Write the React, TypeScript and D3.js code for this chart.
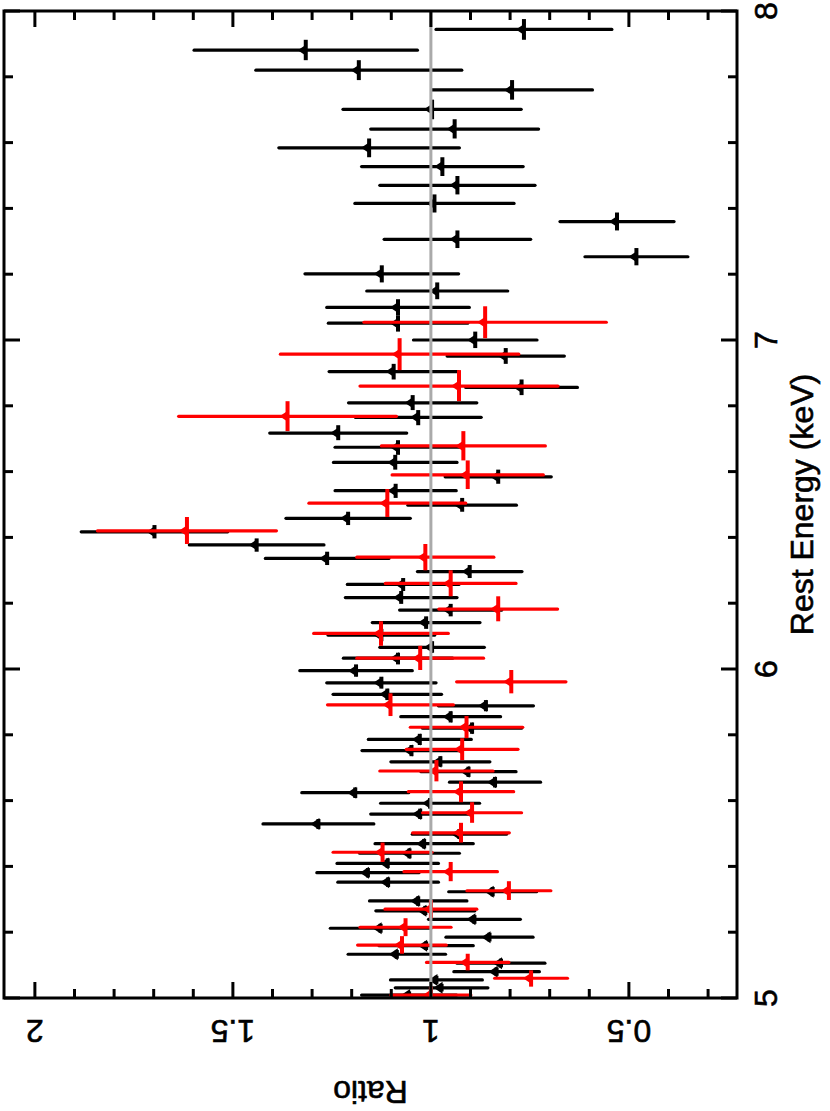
import React from 'react';
import * as d3 from 'd3';

// ---- Data ----
const blackEnergy = [7.944,7.881,7.820,7.760,7.701,7.641,7.584,7.527,7.470,7.415,7.360,7.306,7.253,7.201,7.149,7.099,7.051,7.000,6.951,6.904,6.856,6.809,6.765,6.717,6.674,6.628,6.584,6.542,6.498,6.458,6.417,6.377,6.336,6.296,6.257,6.217,6.179,6.141,6.103,6.066,6.033,5.995,5.958,5.923,5.888,5.855,5.820,5.786,5.752,5.718,5.688,5.656,5.624,5.592,5.559,5.529,5.498,5.469,5.440,5.409,5.381,5.352,5.323,5.295,5.265,5.239,5.212,5.185,5.159,5.133,5.106,5.080,5.055,5.031,5.009];
const blackRatio = [0.765,1.316,1.182,0.795,0.997,0.940,1.156,0.971,0.933,0.991,0.530,0.933,0.481,1.124,0.984,1.083,1.083,0.888,0.811,1.094,0.771,1.046,1.032,1.234,1.083,1.090,0.830,1.089,0.921,1.209,1.698,1.440,1.262,0.902,1.070,1.075,0.950,1.012,1.125,0.997,1.083,1.189,1.125,1.110,0.861,0.950,0.896,1.028,1.049,0.976,0.905,0.838,1.191,1.002,1.027,1.284,0.928,1.017,1.054,1.109,1.159,1.108,0.844,1.032,1.014,0.890,1.127,0.852,1.012,1.086,0.823,0.834,0.986,0.973,1.055];
const blackErr = [0.222,0.282,0.260,0.203,0.225,0.212,0.228,0.204,0.196,0.201,0.144,0.185,0.130,0.194,0.178,0.180,0.176,0.156,0.148,0.163,0.141,0.162,0.159,0.173,0.159,0.156,0.134,0.153,0.137,0.157,0.185,0.170,0.156,0.132,0.141,0.141,0.129,0.136,0.135,0.132,0.138,0.142,0.138,0.137,0.120,0.126,0.125,0.130,0.125,0.125,0.120,0.115,0.135,0.125,0.125,0.140,0.119,0.124,0.126,0.128,0.129,0.127,0.111,0.123,0.125,0.116,0.127,0.110,0.119,0.123,0.111,0.108,0.116,0.117,0.120];

const redEnergy = [7.054,6.957,6.860,6.768,6.678,6.590,6.504,6.420,6.340,6.260,6.182,6.108,6.033,5.961,5.891,5.823,5.756,5.690,5.627,5.563,5.502,5.443,5.384,5.326,5.270,5.215,5.161,5.108,5.060,5.009];
const redRatio = [0.863,1.079,0.929,1.362,0.918,0.907,1.110,1.616,1.014,0.950,0.830,1.126,1.027,0.797,1.102,0.910,0.921,0.986,0.924,0.896,0.924,1.122,0.950,0.803,1.000,1.064,1.073,0.907,0.747,1.000];
const redErr = [0.306,0.301,0.250,0.275,0.207,0.191,0.198,0.226,0.173,0.165,0.150,0.170,0.160,0.138,0.159,0.142,0.141,0.143,0.133,0.125,0.122,0.125,0.118,0.106,0.116,0.115,0.112,0.104,0.092,0.101];

const energyMajorTicks = [5, 6, 7, 8];
const energyTickLabels = ['5', '6', '7', '8'];
const ratioMajorTicks = [2, 1.5, 1, 0.5];
const ratioTickLabels = ['2', '1.5', '1', '0.5'];
const energyDomain = [5, 8];
const ratioDomain = [2.078, 0.227];
const referenceRatio = 1;

const FONT = "'Liberation Sans', Arial, Helvetica, sans-serif";

function binEdges(E: number[]) {
  const idx = E.map((_, i) => i).sort((a, b) => E[a] - E[b]);
  const lo: number[] = new Array(E.length);
  const hi: number[] = new Array(E.length);
  idx.forEach((k, j) => {
    const prev = j > 0 ? E[idx[j - 1]] : null;
    const next = j < idx.length - 1 ? E[idx[j + 1]] : null;
    const dl = prev !== null ? (E[k] - prev) / 2 : (next! - E[k]) / 2;
    const dh = next !== null ? (next - E[k]) / 2 : dl;
    lo[k] = E[k] - dl;
    hi[k] = E[k] + dh;
  });
  return { lo, hi };
}

export default function App() {
  const W = 830, H = 1111;
  const frame = { left: 4, right: 737, top: 11, bottom: 998 };
  const y = d3.scaleLinear().domain(energyDomain).range([frame.bottom, frame.top]);
  const x = d3.scaleLinear().domain(ratioDomain).range([frame.left, frame.right]);

  const ratioMinor = d3.range(3, 21).map(i => i / 10);
  const energyMinor = d3.range(25, 41).map(i => i / 5);

  const series = [
    { E: blackEnergy, R: blackRatio, err: blackErr, color: '#000000' },
    { E: redEnergy, R: redRatio, err: redErr, color: '#ff0000' },
  ];

  const tickLen = (major: boolean) => (major ? 16 : 9);
  const textStyle = { fontFamily: FONT, fontSize: 32, fill: '#000', stroke: '#000', strokeWidth: 0.6 } as const;

  return (
    <svg width={W} height={H} style={{ position: 'absolute', left: 0, top: 0, background: '#fff' }}>
      <defs>
        <clipPath id="plotclip">
          <rect x={frame.left} y={frame.top} width={frame.right - frame.left} height={frame.bottom - frame.top} />
        </clipPath>
      </defs>

      <g clipPath="url(#plotclip)">
        {series.map((s, si) => {
          const { lo, hi } = binEdges(s.E);
          return (
            <g key={si}>
              {s.E.map((e, i) => {
                const cy = y(e);
                const cx = x(s.R[i]);
                const x1 = x(s.R[i] + s.err[i]);
                const x2 = x(s.R[i] - s.err[i]);
                return (
                  <g key={i}>
                    <line x1={x1} x2={x2} y1={cy} y2={cy} stroke={s.color} strokeWidth={3.2} strokeLinecap="round" />
                    <line x1={cx} x2={cx} y1={y(lo[i])} y2={y(hi[i])} stroke={s.color} strokeWidth={4} />
                    <path d={`M${cx - 8},${cy} L${cx + 1},${cy - 6} L${cx + 1},${cy + 6} Z`} fill={s.color} />
                  </g>
                );
              })}
            </g>
          );
        })}
        <line x1={x(referenceRatio)} x2={x(referenceRatio)} y1={frame.top} y2={frame.bottom} stroke="#aaaaaa" strokeWidth={3} />
      </g>

      {/* ratio ticks (top and bottom edges) */}
      {ratioMinor.map((v, i) => {
        const major = Math.abs(v * 2 - Math.round(v * 2)) < 1e-6;
        const L = tickLen(major);
        const xx = x(v);
        return (
          <g key={'rt' + i}>
            <line x1={xx} x2={xx} y1={frame.bottom} y2={frame.bottom - L} stroke="#000" strokeWidth={3} />
            <line x1={xx} x2={xx} y1={frame.top} y2={frame.top + L} stroke="#000" strokeWidth={3} />
          </g>
        );
      })}

      {/* energy ticks (left and right edges) */}
      {energyMinor.map((v, i) => {
        const major = Math.abs(v - Math.round(v)) < 1e-6;
        const L = tickLen(major);
        const yy = y(v);
        return (
          <g key={'et' + i}>
            <line x1={frame.left} x2={frame.left + L} y1={yy} y2={yy} stroke="#000" strokeWidth={3} />
            <line x1={frame.right} x2={frame.right - L} y1={yy} y2={yy} stroke="#000" strokeWidth={3} />
          </g>
        );
      })}

      <rect x={frame.left} y={frame.top} width={frame.right - frame.left} height={frame.bottom - frame.top}
        fill="none" stroke="#000" strokeWidth={3} />

      {/* energy tick labels */}
      {energyMajorTicks.map((v, i) => (
        <text key={'el' + i} transform={`translate(777, ${y(v)}) rotate(-90)`} textAnchor="middle" {...textStyle}>
          {energyTickLabels[i]}
        </text>
      ))}

      {/* ratio tick labels */}
      {ratioMajorTicks.map((v, i) => (
        <text key={'rl' + i} transform={`translate(${x(v)}, 1020) rotate(180)`} textAnchor="middle" {...textStyle}>
          {ratioTickLabels[i]}
        </text>
      ))}

      <text transform={`translate(${(frame.left + frame.right) / 2}, 1081) rotate(180)`} textAnchor="middle" {...textStyle}>
        Ratio
      </text>

      <text transform={`translate(813, ${(frame.top + frame.bottom) / 2}) rotate(-90)`} textAnchor="middle" {...textStyle}>
        Rest Energy (keV)
      </text>
    </svg>
  );
}
